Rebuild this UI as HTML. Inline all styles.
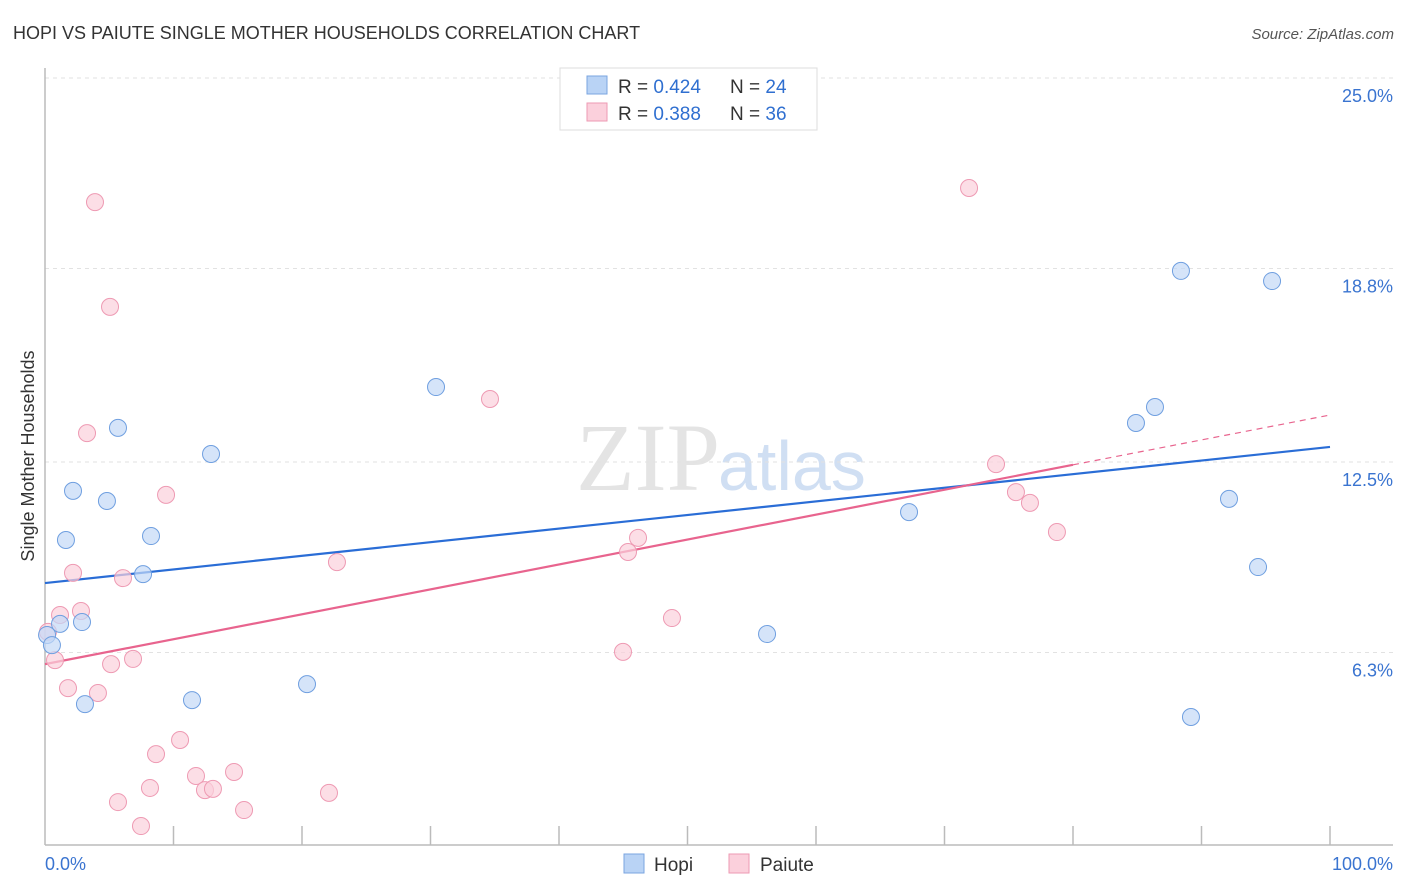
<!DOCTYPE html>
<html><head><meta charset="utf-8">
<style>
body{margin:0;background:#fff;font-family:"Liberation Sans",sans-serif;}
svg{display:block}
</style></head>
<body>
<svg id="chart" width="1406" height="892">
<text x="13" y="39" font-size="18" fill="#333">HOPI VS PAIUTE SINGLE MOTHER HOUSEHOLDS CORRELATION CHART</text>
<text x="1394" y="39" font-size="15" fill="#555" font-style="italic" text-anchor="end">Source: ZipAtlas.com</text>
<text x="720" y="490" font-size="96" fill="#e4e4e4" font-family="Liberation Serif" text-anchor="end">ZIP</text>
<text x="718" y="490" font-size="70" fill="#d0dff3">atlas</text>
<text transform="translate(34,456) rotate(-90)" font-size="18" fill="#333" text-anchor="middle">Single Mother Households</text>
<g id="grid"></g><g id="axes"></g><g id="lines"></g><g id="pts"></g>
<g>
<rect x="560" y="68" width="257" height="62" fill="#fff" stroke="#ddd"/>
<rect x="587" y="76" width="20" height="18" fill="#b9d3f5" stroke="#7aa5e0"/>
<rect x="587" y="103" width="20" height="18" fill="#fbd0dc" stroke="#ee9ab3"/>
<text x="618" y="93" font-size="19" fill="#333">R = <tspan fill="#2f6fd0">0.424</tspan></text>
<text x="730" y="93" font-size="19" fill="#333">N = <tspan fill="#2f6fd0">24</tspan></text>
<text x="618" y="120" font-size="19" fill="#333">R = <tspan fill="#2f6fd0">0.388</tspan></text>
<text x="730" y="120" font-size="19" fill="#333">N = <tspan fill="#2f6fd0">36</tspan></text>
</g>
<g>
<rect x="624" y="854" width="20" height="19" fill="#b9d3f5" stroke="#7aa5e0"/>
<text x="654" y="871" font-size="19" fill="#333">Hopi</text>
<rect x="729" y="854" width="20" height="19" fill="#fbd0dc" stroke="#ee9ab3"/>
<text x="760" y="871" font-size="19" fill="#333">Paiute</text>
</g>
</svg>
<script>
const yTicks=[25.0,18.8,12.5,6.3];
const yTickLabels=["25.0%","18.8%","12.5%","6.3%"];
const hopiX=[0.16,0.54,1.17,1.63,2.18,2.88,3.11,4.82,5.68,7.63,8.25,11.44,12.92,20.39,30.43,56.19,67.24,84.90,86.38,88.40,89.18,92.14,94.40,95.49];
const hopiY=[6.87,6.54,7.23,9.96,11.56,7.29,4.62,11.23,13.61,8.85,10.09,4.75,12.76,5.27,14.94,6.90,10.87,13.77,14.29,18.72,4.20,11.30,9.08,18.39];
const paiuteX=[0.23,0.78,1.17,1.79,2.18,2.80,3.27,3.89,4.12,5.06,5.14,5.68,6.07,6.85,7.47,8.17,8.64,9.42,10.51,11.75,12.45,13.07,14.71,15.49,22.10,22.72,34.63,44.98,45.37,46.15,48.79,71.91,74.01,75.56,76.65,78.75];
const paiuteY=[6.97,6.05,7.52,5.14,8.89,7.65,13.44,20.96,4.98,17.55,5.92,1.43,8.72,6.09,0.65,1.89,2.99,11.43,3.45,2.28,1.82,1.86,2.41,1.17,1.73,9.24,14.55,6.32,9.57,10.03,7.42,21.42,12.43,11.52,11.17,10.22];
const hopiTrend=[8.56,12.99];
const paiuteTrend=[5.92,14.03];
const NS="http://www.w3.org/2000/svg";
const X=v=>45+v*12.85, Y=v=>846-v*30.72;
function mk(tag,attrs,parent){const e=document.createElementNS(NS,tag);for(const k in attrs)e.setAttribute(k,attrs[k]);document.getElementById(parent).appendChild(e);return e;}
yTicks.forEach((t,i)=>{
 const g=mk('line',{x1:45,x2:1393,y1:Y(t),y2:Y(t),stroke:'#e2e2e2','stroke-dasharray':'4,4'},'grid');
 
 
 const l=mk('text',{x:1393,y:Y(t)+24,'font-size':18,fill:'#3a74d0','text-anchor':'end'},'grid');
 l.textContent=yTickLabels[i];
 
 
});
let a=mk('line',{x1:45,x2:45,y1:68,y2:845,stroke:'#bbb','stroke-width':1.5},'axes');


a=mk('line',{x1:45,x2:1393,y1:845,y2:845,stroke:'#bbb','stroke-width':1.5},'axes');


for(let i=1;i<=10;i++){const t=mk('line',{x1:X(i*10),x2:X(i*10),y1:826,y2:845,stroke:'#bbb','stroke-width':1.5},'axes');
 
 }
let xl=mk('text',{x:45,y:870,'font-size':18,fill:'#3a74d0'},'axes');xl.textContent='0.0%';


xl=mk('text',{x:1393,y:870,'font-size':18,fill:'#3a74d0','text-anchor':'end'},'axes');xl.textContent='100.0%';


function pts(xs,ys,fill,stroke,name){xs.forEach((x,i)=>{const c=mk('circle',{cx:X(x),cy:Y(ys[i]),r:8.5,fill:fill,stroke:stroke,'stroke-width':1,'fill-opacity':0.7},'pts');
 
 });}
pts(paiuteX,paiuteY,'#fbd0dc','#ee9ab3','paiute-point');
pts(hopiX,hopiY,'#c3d9f6','#6f9fe0','hopi-point');
let ln=mk('line',{x1:X(0),y1:Y(hopiTrend[0]),x2:X(100),y2:Y(hopiTrend[1]),stroke:'#2a6dd6','stroke-width':2.2},'lines');


const px=80,py=paiuteTrend[0]+(paiuteTrend[1]-paiuteTrend[0])*px/100;
ln=mk('line',{x1:X(0),y1:Y(paiuteTrend[0]),x2:X(px),y2:Y(py),stroke:'#e8648e','stroke-width':2.2},'lines');


ln=mk('line',{x1:X(px),y1:Y(py),x2:X(100),y2:Y(paiuteTrend[1]),stroke:'#e8648e','stroke-width':1.2,'stroke-dasharray':'6,5'},'lines');


</script>
</body></html>
